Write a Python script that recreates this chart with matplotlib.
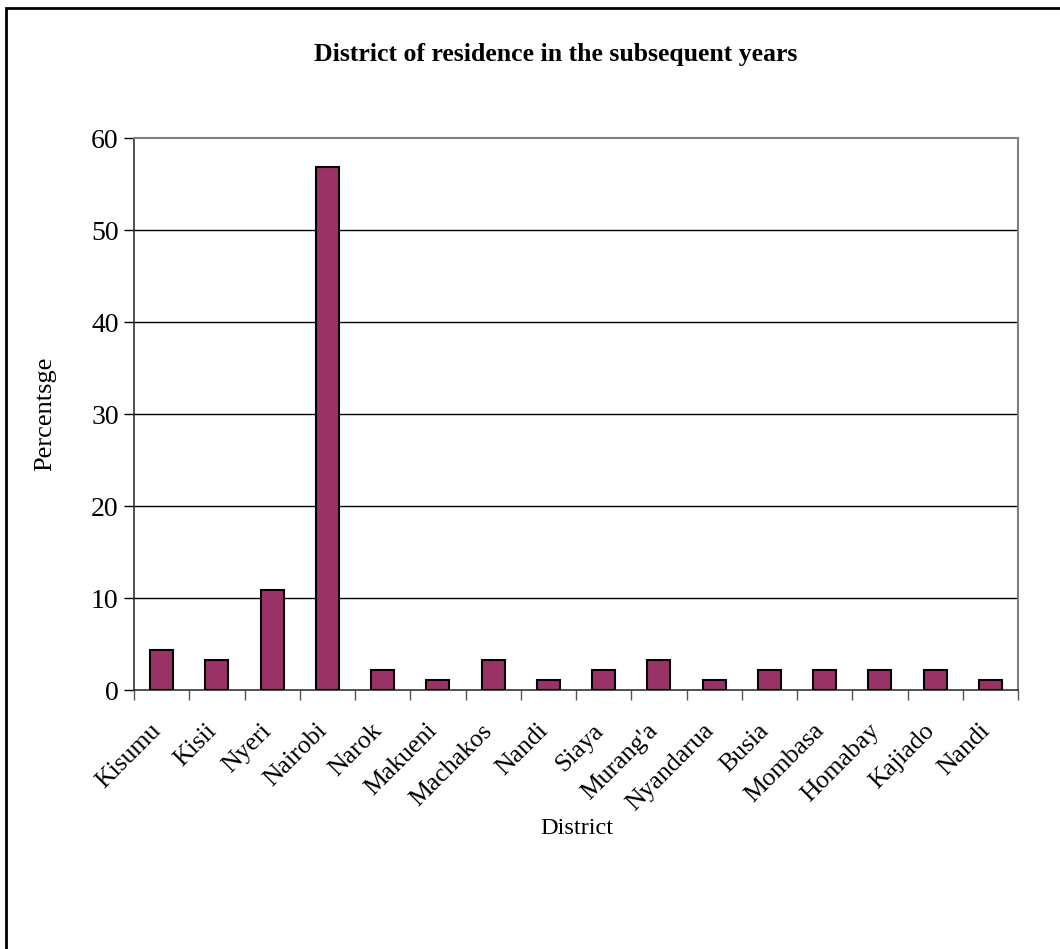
import numpy as np
import matplotlib.pyplot as plt
from matplotlib.patches import Rectangle
import matplotlib.transforms as mtransforms

# data
districts = ['Kisumu', 'Kisii', 'Nyeri', 'Nairobi', 'Narok', 'Makueni', 'Machakos',
             'Nandi', 'Siaya', "Murang'a", 'Nyandarua', 'Busia', 'Mombasa',
             'Homabay', 'Kajiado', 'Nandi']
percent = [4.35, 3.26, 10.9, 56.9, 2.17, 1.09, 3.26,
           1.09, 2.17, 3.26, 1.09, 2.17, 2.17, 2.17, 2.17, 1.09]
yticks = [0, 10, 20, 30, 40, 50, 60]

plt.rcParams['font.family'] = ['Liberation Serif', 'DejaVu Serif']

fig = plt.figure(figsize=(10.6, 9.49), dpi=100)
ax = fig.add_axes([134/1060, 1-690/949, (1018-134)/1060, (690-138)/949])

x = np.arange(len(districts))
ax.bar(x, percent, width=0.42, color='#993366', edgecolor='black', linewidth=1.5, zorder=3)

ax.set_xlim(-0.5, len(districts)-0.5)
ax.set_ylim(0, 60)
ax.set_yticks(yticks)
ax.tick_params(axis='y', labelsize=20, length=7, width=1, direction='out', pad=4)

# labels at bar centres, tick marks between categories
ax.set_xticks(x)
ax.set_xticklabels(districts, rotation=45, ha='right', va='center',
                   rotation_mode='anchor', fontsize=18.5)
ax.tick_params(axis='x', which='major', length=0, pad=27)
shift = mtransforms.ScaledTranslation(-4/100, 0, fig.dpi_scale_trans)
for lab in ax.get_xticklabels():
    lab.set_transform(lab.get_transform() + shift)
ax.set_xticks(np.arange(-0.5, len(districts)), minor=True)
ax.tick_params(axis='x', which='minor', length=7, width=1, direction='out', color='#555555')

ax.grid(axis='y', color='black', linewidth=1, zorder=0)
gl = ax.get_ygridlines()
gl[0].set_visible(False)
gl[-1].set_visible(False)

for s in ['top', 'right']:
    ax.spines[s].set_color('#808080')
    ax.spines[s].set_linewidth(1.5)
for s in ['left', 'bottom']:
    ax.spines[s].set_color('#333333')
    ax.spines[s].set_linewidth(1.2)

fig.text(556/1060, 1-55/949, 'District of residence in the subsequent years',
         ha='center', va='center', fontsize=18.5, fontweight='bold')
fig.text(45/1060, 1-414/949, 'Percentsge', rotation=90, ha='center', va='center', fontsize=19)
fig.text(577/1060, 1-828/949, 'District', ha='center', va='center', fontsize=17.5)

# chart area border (runs off the right and bottom edges)
fig.patches.append(Rectangle((6/1060, -0.1), 1.1, 1-8/949+0.1, transform=fig.transFigure,
                             fill=False, edgecolor='black', linewidth=2))

fig.savefig('out.png')
